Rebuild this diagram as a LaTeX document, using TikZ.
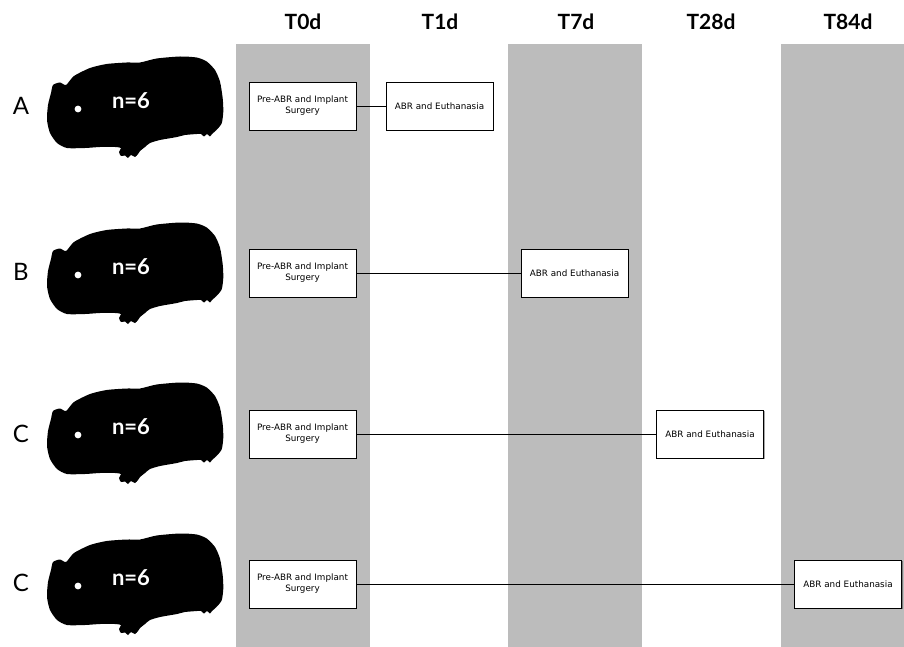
\documentclass[tikz,border=0pt]{standalone}
\usepackage{fontspec}
\setmainfont{Lato}
\newfontfamily\boxfont{DejaVu Sans}
\usetikzlibrary{shadows}
\definecolor{colgray}{RGB}{188,188,188}
\tikzset{
  dayband/.style={fill=colgray, draw=none},
  dayhead/.style={font=\fontsize{21}{24}\selectfont\bfseries, anchor=center},
  grouplabel/.style={font=\fontsize{24}{26}\selectfont, anchor=center},
  countlabel/.style={font=\fontsize{22}{24}\selectfont\bfseries, text=white, anchor=center},
  stagebox/.style={draw=black, line width=0.8pt, fill=white, minimum width=107pt,
    minimum height=48pt, inner sep=1pt, align=center,
    font=\boxfont\fontsize{8.8}{11}\selectfont,
    drop shadow={shadow xshift=1.2pt, shadow yshift=-1.2pt, opacity=0.35, fill=black}},
  link/.style={draw=black, line width=0.7pt},
  pics/cavy/.style={code={
    \fill[black] plot[smooth cycle, tension=0.4] coordinates {
      (53,85) (60,82.5) (66,85) (74,76) (90,68) (106.7,64) (126.7,62.5)
      (140,62.5) (156.7,58.5) (180,56.5) (196.7,57.5) (206.7,61.5) (215,70)
      (220,81.7) (222.7,98.3) (223.3,111.7) (221.7,123.3) (216.5,130)
      (212,134) (210,136.5) (207,134) (204,136.5) (201,134) (197,134)
      (185,135) (177,137) (160,140) (150,143) (145,147) (140,151) (138,154)
      (135,157) (131,155) (128,158) (125,155.5) (121,156) (119,152) (121,148)
      (115,147) (100,147) (85,148) (67,148) (57,143) (50,133) (47,120)
      (48,105) (51,93)};
    \fill[white] (78,109) circle (3.4);
  }}
}
\begin{document}
\begin{tikzpicture}[x=1pt, y=-1pt]
  \useasboundingbox (0,0) rectangle (904,647);
  \fill[white] (0,0) rectangle (904,647);

  % time-point bands
  \fill[dayband] (236,44) rectangle (370,647);
  \fill[dayband] (508,44) rectangle (642,647);
  \fill[dayband] (781,44) rectangle (904,647);

  % time-point headings
  \node[dayhead] (h0)  at (303,22) {T0d};
  \node[dayhead] (h1)  at (440,22) {T1d};
  \node[dayhead] (h7)  at (576,22) {T7d};
  \node[dayhead] (h28) at (711,22) {T28d};
  \node[dayhead] (h84) at (848,22) {T84d};

  % animal groups
  \pic at (0,0)   {cavy};
  \pic at (0,166) {cavy};
  \pic at (0,326) {cavy};
  \pic at (0,477) {cavy};
  \node[countlabel] (nA) at (131,101) {n=6};
  \node[countlabel] (nB) at (131,267) {n=6};
  \node[countlabel] (nC) at (131,427) {n=6};
  \node[countlabel] (nD) at (131,578) {n=6};

  \node[grouplabel] (gA) at (21,106) {A};
  \node[grouplabel] (gB) at (21,272) {B};
  \node[grouplabel] (gC) at (21,434) {C};
  \node[grouplabel] (gD) at (21,583) {C};

  % procedures
  \node[stagebox] (preA) at (302.5,106) {Pre-ABR and Implant\\Surgery};
  \node[stagebox] (endA) at (439.5,106) {ABR and Euthanasia};
  \node[stagebox] (preB) at (302.5,273) {Pre-ABR and Implant\\Surgery};
  \node[stagebox] (endB) at (574.5,273) {ABR and Euthanasia};
  \node[stagebox] (preC) at (302.5,434) {Pre-ABR and Implant\\Surgery};
  \node[stagebox] (endC) at (710,434) {ABR and Euthanasia};
  \node[stagebox] (preD) at (302.5,584) {Pre-ABR and Implant\\Surgery};
  \node[stagebox] (endD) at (848,584) {ABR and Euthanasia};

  \draw[link] (preA) -- (endA);
  \draw[link] (preB) -- (endB);
  \draw[link] (preC) -- (endC);
  \draw[link] (preD) -- (endD);
\end{tikzpicture}
\end{document}
